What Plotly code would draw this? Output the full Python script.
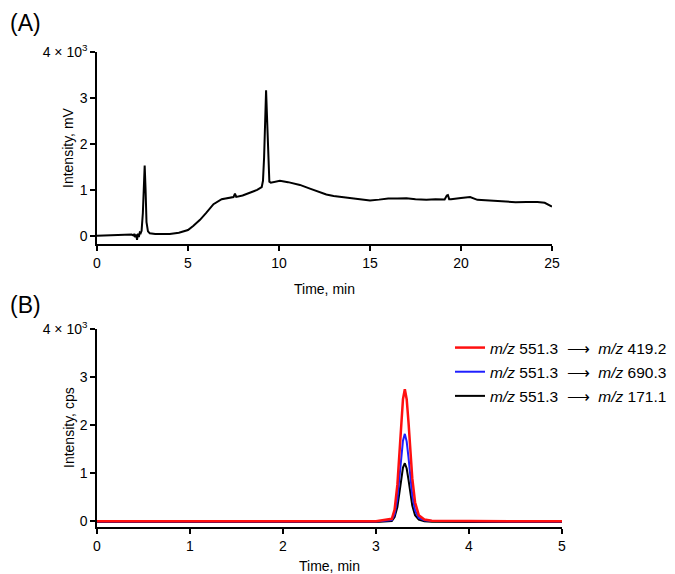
import plotly.graph_objects as go

# ---------- Panel A data (UV chromatogram) ----------
time_a = [0.0, 0.5, 1.0, 1.5, 1.8, 1.9, 2.0, 2.05, 2.1, 2.15, 2.2, 2.25, 2.3, 2.35, 2.4, 2.45,
          2.52, 2.58, 2.62, 2.67, 2.72, 2.8, 2.9, 3.2, 3.5, 4.0, 4.5, 5.0, 5.3, 5.66, 6.0, 6.4,
          6.85, 7.2, 7.5, 7.58, 7.65, 8.0, 8.4, 8.8, 9.05, 9.12, 9.18, 9.24, 9.29, 9.34, 9.4,
          9.47, 9.55, 9.8, 10.05, 10.5, 11.15, 11.7, 12.25, 12.6, 13.0, 13.35, 13.8, 14.3, 15.0,
          15.5, 16.0, 16.5, 17.0, 17.5, 18.1, 18.6, 19.1, 19.22, 19.28, 19.35, 19.45, 20.0, 20.5,
          20.9, 21.5, 22.3, 23.0, 23.6, 24.2, 24.6, 25.0]
intensity_a = [5, 8, 10, 15, 22, 30, 10, 45, -30, 35, -85, 50, -25, 75, 60, 110,
               500, 1350, 1530, 1000, 300, 100, 60, 45, 40, 40, 70, 130, 220, 350, 500, 690,
               800, 830, 845, 920, 850, 880, 940, 1000, 1060, 1200, 1700, 2700, 3170, 2600, 1700,
               1180, 1160, 1180, 1200, 1170, 1110, 1030, 945, 900, 870, 855, 830, 810, 770,
               790, 815, 812, 820, 800, 785, 800, 795, 880, 890, 800, 800, 825, 845,
               785, 770, 740, 735, 740, 738, 720, 640]

# ---------- Panel B data (MRM chromatograms) ----------
time_b = [0.0, 1.0, 2.0, 3.0, 3.17, 3.2, 3.23, 3.25, 3.27, 3.29, 3.31, 3.33, 3.35, 3.37,
          3.39, 3.42, 3.46, 3.52, 3.6, 4.0, 4.5, 5.0]
red_b = [5, 5, 5, 5, 55, 245, 765, 1340, 2000, 2540, 2750, 2540, 2050, 1450,
         900, 400, 130, 40, 15, 8, 5, 5]
blue_b = [0, 0, 0, 0, 30, 150, 480, 870, 1310, 1680, 1820, 1660, 1320, 900,
          540, 230, 75, 25, 8, 3, 0, 0]
black_b = [-10, -10, -10, -10, 10, 90, 300, 580, 870, 1120, 1210, 1100, 860, 570,
           330, 130, 40, 5, -5, -10, -10, -10]

NB = "\u00a0"
ARROW = NB + " \u27f6 " + NB
legend_names = ["<i>m/z</i> 551.3" + ARROW + "<i>m/z</i> 419.2",
                "<i>m/z</i> 551.3" + ARROW + "<i>m/z</i> 690.3",
                "<i>m/z</i> 551.3" + ARROW + "<i>m/z</i> 171.1"]

y_tickvals = [0, 1000, 2000, 3000, 4000]
y_ticktext = ["0", "1", "2", "3", "4 × 10<sup>3</sup>"]

FONT = "Liberation Sans, Arial, sans-serif"

# page body has an 8px margin; figure occupies window from (8, 8)
W, H = 667, 566
OFF = 8


def px(x):
    return (x - OFF) / W


def py(y):
    return 1 - (y - OFF) / H


fig = go.Figure()

fig.add_trace(go.Scatter(x=time_a, y=intensity_a, mode="lines",
                         line=dict(color="black", width=2), showlegend=False,
                         xaxis="x", yaxis="y"))

# draw black, blue, then red (red on top); legend ordered via legendrank
fig.add_trace(go.Scatter(x=time_b, y=black_b, mode="lines", name=legend_names[2],
                         line=dict(color="black", width=2), legendrank=3,
                         legendgroup="c", xaxis="x2", yaxis="y2"))
fig.add_trace(go.Scatter(x=time_b, y=blue_b, mode="lines", name=legend_names[1],
                         line=dict(color="#1f1fff", width=2), legendrank=2,
                         legendgroup="b", xaxis="x2", yaxis="y2"))
fig.add_trace(go.Scatter(x=time_b, y=red_b, mode="lines", name=legend_names[0],
                         line=dict(color="#ff1010", width=2.5), legendrank=1,
                         legendgroup="a", xaxis="x2", yaxis="y2"))

axis_common = dict(showline=True, linecolor="black", linewidth=1.5, ticks="outside",
                   ticklen=5, tickwidth=1.5, tickcolor="black", showgrid=False,
                   zeroline=False, automargin=False,
                   tickfont=dict(family=FONT, size=14, color="black"))

fig.update_layout(
    width=W, height=H,
    margin=dict(l=0, r=0, t=0, b=0),
    paper_bgcolor="white", plot_bgcolor="white",
    font=dict(family=FONT, size=14, color="black"),
    xaxis=dict(domain=[px(97), px(552)], range=[0, 25], tickvals=[0, 5, 10, 15, 20, 25],
               anchor="y", title=dict(text="Time, min", font=dict(size=14)),
               **axis_common),
    yaxis=dict(domain=[py(244), py(52)], range=[-175, 4000],
               tickvals=y_tickvals, ticktext=y_ticktext, anchor="x",
               **axis_common),
    xaxis2=dict(domain=[px(97), px(562)], range=[0, 5], tickvals=[0, 1, 2, 3, 4, 5],
                anchor="y2", title=dict(text="Time, min", font=dict(size=14)),
                **axis_common),
    yaxis2=dict(domain=[py(527), py(329)], range=[-115, 4000],
                tickvals=y_tickvals, ticktext=y_ticktext, anchor="x2",
                **axis_common),
    legend=dict(x=px(450), y=py(331), xanchor="left", yanchor="top",
                traceorder="grouped", tracegroupgap=1,
                font=dict(family=FONT, size=15.5, color="black"),
                bgcolor="rgba(0,0,0,0)"),
    annotations=[
        dict(text="(A)", x=0, y=1, xref="paper", yref="paper", xanchor="left",
             yanchor="top", showarrow=False, font=dict(size=23, family=FONT)),
        dict(text="(B)", x=0, y=py(290), xref="paper", yref="paper", xanchor="left",
             yanchor="top", showarrow=False, font=dict(size=23, family=FONT)),
        dict(text="Intensity, mV", x=px(68), y=py(148), xref="paper", yref="paper",
             xanchor="center", yanchor="middle", textangle=-90, showarrow=False,
             font=dict(size=14, family=FONT)),
        dict(text="Intensity, cps", x=px(69), y=py(428), xref="paper", yref="paper",
             xanchor="center", yanchor="middle", textangle=-90, showarrow=False,
             font=dict(size=14, family=FONT)),
    ],
)

fig.write_html("out.html")
